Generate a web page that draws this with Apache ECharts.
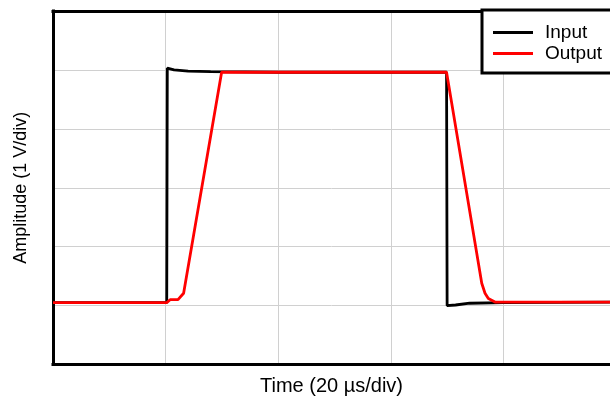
<!DOCTYPE html>
<html>
<head>
<meta charset="utf-8">
<script src="https://cdn.jsdelivr.net/npm/echarts@6/dist/echarts.min.js"></script>
<style>html,body{margin:0;padding:0;background:#fff;}#c{width:610px;height:402px;}</style>
</head>
<body>
<div id="c"></div>
<script>
const seriesNames = ['Input', 'Output'];
const inputData = [[0,1.05],[20.2,1.05],[20.3,5.03],[21.5,5.0],[24,4.98],[28,4.97],[40,4.96],[69.9,4.96],[70.0,1.0],[71.5,1.01],[74,1.04],[80,1.05],[100,1.06]];
const outputData = [[0,1.05],[20.2,1.05],[20.8,1.10],[22.2,1.10],[23.2,1.21],[29.95,4.96],[69.9,4.96],[76.15,1.38],[76.73,1.21],[77.32,1.12],[78.5,1.06],[100,1.06]];
const xTitle = 'Time (20 µs/div)';
const yTitle = 'Amplitude (1 V/div)';
// visible part of the 5-division time axis (the plot continues past the right edge)
const xVisibleMax = 98.93;

const chart = echarts.init(document.getElementById('c'), null, {renderer:'canvas'});
const border = {show: true, lineStyle: {color: '#000', width: 3, cap: 'square'}};
chart.setOption({
  animation: false,
  backgroundColor: '#fff',
  textStyle: {fontFamily: 'Liberation Sans, Arial, sans-serif'},
  grid: {left: 53, top: 11, right: 0, height: 353.5, show: false},
  legend: {
    data: seriesNames,
    orient: 'vertical',
    left: 482, top: 10,
    padding: [12, 30, 9, 11],
    itemGap: 0,
    itemWidth: 40, itemHeight: 3,
    icon: 'rect',
    backgroundColor: '#fff',
    borderColor: '#000', borderWidth: 3, borderRadius: 0,
    textStyle: {fontSize: 19, color: '#000', fontFamily: 'Liberation Sans, Arial, sans-serif', lineHeight: 21, padding: [0,0,0,7]}
  },
  xAxis: [{
    type: 'value', min: 0, max: xVisibleMax, interval: 20, position: 'bottom',
    name: xTitle, nameLocation: 'middle', nameGap: 12,
    nameTextStyle: {fontSize: 20, color: '#000'},
    axisLine: border, axisTick: {show: false}, axisLabel: {show: false},
    splitLine: {show: true, showMinLine: false, showMaxLine: false, lineStyle: {color: '#d0d0d0', width: 1}}
  }, {
    type: 'value', min: 0, max: xVisibleMax, interval: 20, position: 'top',
    axisLine: border, axisTick: {show: false}, axisLabel: {show: false}, splitLine: {show: false}
  }],
  yAxis: {
    type: 'value', min: 0, max: 6, interval: 1,
    name: yTitle, nameLocation: 'middle', nameGap: 23,
    nameTextStyle: {fontSize: 18, color: '#000'},
    axisLine: border, axisTick: {show: false}, axisLabel: {show: false},
    splitLine: {show: true, showMinLine: false, showMaxLine: false, lineStyle: {color: '#d0d0d0', width: 1}}
  },
  series: [
    {name: seriesNames[0], type: 'line', data: inputData, showSymbol: false, symbol: 'none', lineStyle: {color: '#000', width: 2.8}, itemStyle: {color: '#000'}},
    {name: seriesNames[1], type: 'line', data: outputData, showSymbol: false, symbol: 'none', lineStyle: {color: '#ff0000', width: 2.8}, itemStyle: {color: '#ff0000'}}
  ]
});
</script>
</body>
</html>
